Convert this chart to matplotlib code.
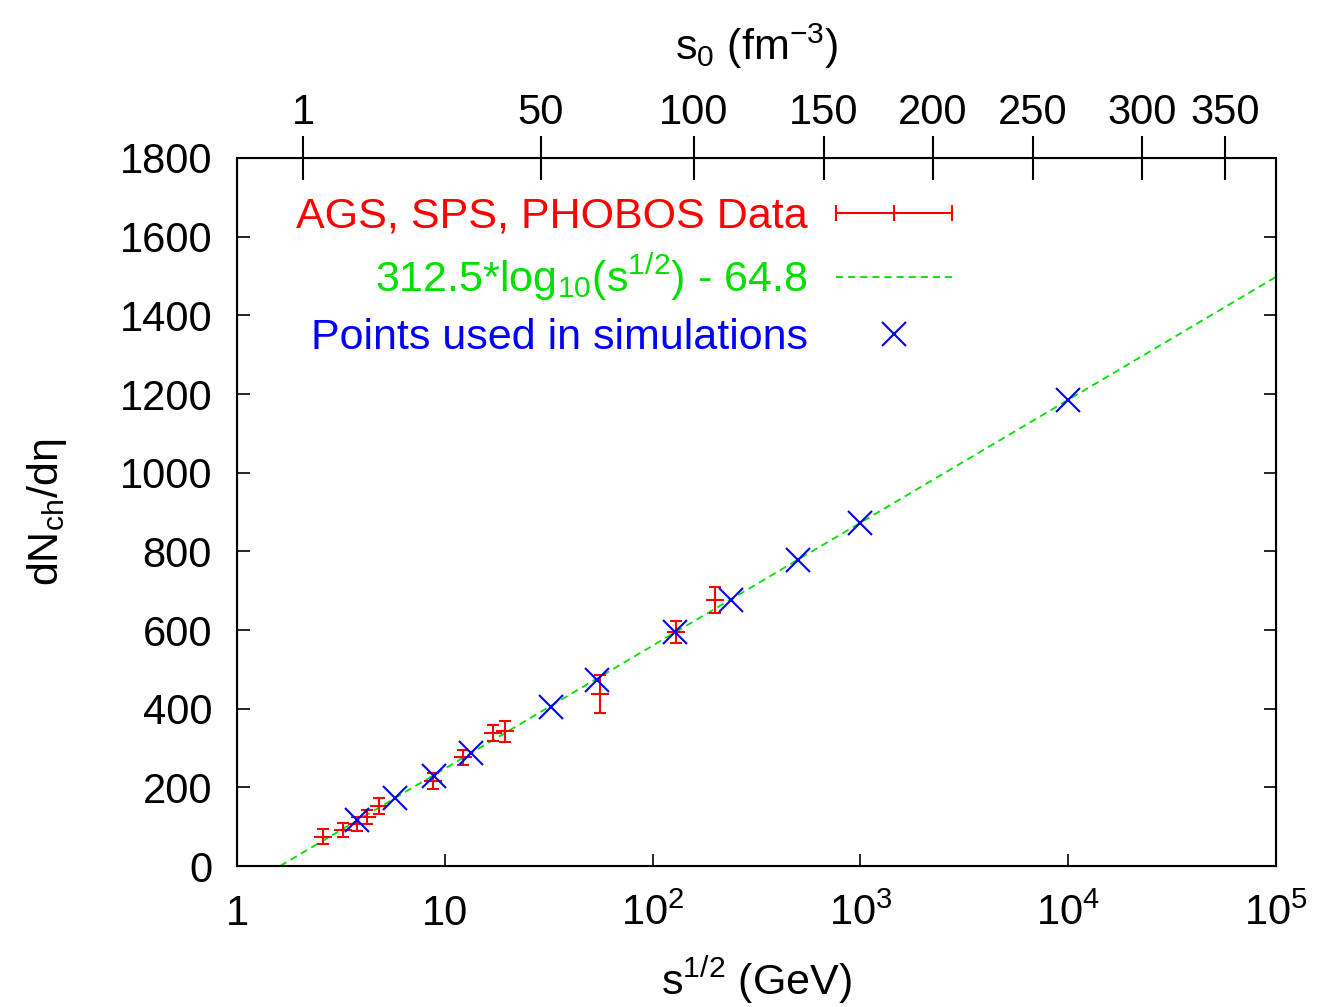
import numpy as np
import matplotlib
matplotlib.use("Agg")
import matplotlib.pyplot as plt
from matplotlib.lines import Line2D
from matplotlib.legend_handler import HandlerLine2D

plt.rcParams['font.family'] = ['Liberation Sans', 'DejaVu Sans']
plt.rcParams['mathtext.default'] = 'regular'

# AGS, SPS, PHOBOS data (sqrt(s) in GeV, dNch/deta, error)
data_sqrts = [2.6, 3.25, 3.8, 4.2, 4.85, 8.75, 12.2, 17.1, 19.5, 56, 130, 200]
data_dndeta = [74, 92, 107, 125, 153, 216, 277, 338, 342, 437, 595, 676]
data_err = [19, 18, 18, 18, 20, 20, 19, 20, 27, 48, 28, 34]

# points used in the simulations
sim_sqrts = [3.78, 5.76, 8.87, 13.4, 32.5, 54, 128, 238, 500, 1000, 10000]
sim_dndeta = [117, 174, 229, 287, 405, 473, 595, 677, 778, 873, 1185]

# fit: a*log10(sqrt(s)) + b
fit_a = 312.5
fit_b = -64.8

# top axis (s0 in fm^-3) tick positions in sqrt(s)
top_tick_sqrts = [2.08, 29, 158, 668, 2235, 6770, 22650, 56800]
top_tick_labels = ['1', '50', '100', '150', '200', '250', '300', '350']

bottom_ticks = [1, 10, 100, 1000, 10000, 100000]
bottom_labels = ['1', '10', '10$^2$', '10$^3$', '10$^4$', '10$^5$']
y_ticks = list(range(0, 1801, 200))

fs = 30
fs_leg = 31
red = '#ff0000'
green = '#00e000'
blue = '#0000ff'
dash = (0, (4, 2.7))

fig = plt.figure(figsize=(13.33, 10.07), dpi=100)
ax = fig.add_axes([0.1778, 0.1400, 0.7794, 0.7031])

# fit line
x_fit = np.logspace(np.log10(10 ** (-fit_b / fit_a)), 5, 200)
ax.plot(x_fit, fit_a * np.log10(x_fit) + fit_b, color=green, lw=1.3,
        ls=dash, zorder=2)

# data with error bars
ax.errorbar(data_sqrts, data_dndeta, yerr=data_err, fmt='_', color=red,
            ms=13, mew=1.5, elinewidth=1.5, capsize=4.5, capthick=1.5, zorder=3)

# simulation points
ax.plot(sim_sqrts, sim_dndeta, 'x', color=blue, ms=17, mew=1.5, zorder=4)

ax.set_xscale('log')
ax.set_xlim(1, 1e5)
ax.set_ylim(0, 1800)
ax.set_xticks(bottom_ticks)
ax.set_xticklabels(bottom_labels)
ax.minorticks_off()
ax.set_yticks(y_ticks)
ax.tick_params(axis='both', which='major', direction='in', length=9, width=1.2,
               labelsize=fs, top=True, right=True)
ax.tick_params(axis='x', pad=20)
ax.tick_params(axis='y', pad=18)
for sp in ax.spines.values():
    sp.set_linewidth(1.5)

ax.set_xlabel('s$^{1/2}$ (GeV)', fontsize=fs_leg, labelpad=15)
ax.set_ylabel('dN$_{ch}$/d\u03b7', fontsize=fs_leg, labelpad=36)

# top axis: s0
ax2 = ax.twiny()
ax2.set_xscale('log')
ax2.set_xlim(ax.get_xlim())
ax2.set_xticks(top_tick_sqrts)
ax2.set_xticklabels(top_tick_labels)
ax2.minorticks_off()
ax2.tick_params(axis='x', which='major', direction='inout', length=32,
                width=1.5, labelsize=fs, pad=2)
ax2.set_xlabel('s$_0$ (fm$^{-3}$)', fontsize=fs_leg, labelpad=24)

# legend in gnuplot style
h_data = Line2D([], [], color=red, lw=1.5, marker='|', ms=12, mew=1.5)
h_fit = Line2D([], [], color=green, lw=1.3, ls=dash)
h_sim = Line2D([], [], color=blue, ls='none', marker='x', ms=17, mew=1.5)
leg = ax.legend([h_data, h_fit, h_sim],
                ['AGS, SPS, PHOBOS Data',
                 '312.5*log$_{10}$(s$^{1/2}$) - 64.8',
                 'Points used in simulations'],
                handler_map={h_data: HandlerLine2D(numpoints=3, marker_pad=0)},
                loc='upper right', bbox_to_anchor=(0.688, 0.945),
                frameon=False, markerfirst=False, fontsize=fs_leg,
                handlelength=2.7, handletextpad=0.65, labelspacing=0.35,
                borderpad=0, borderaxespad=0, numpoints=1)
for t, c in zip(leg.get_texts(), [red, green, blue]):
    t.set_color(c)
    t.set_ha('right')

fig.savefig('out.png', dpi=100)
